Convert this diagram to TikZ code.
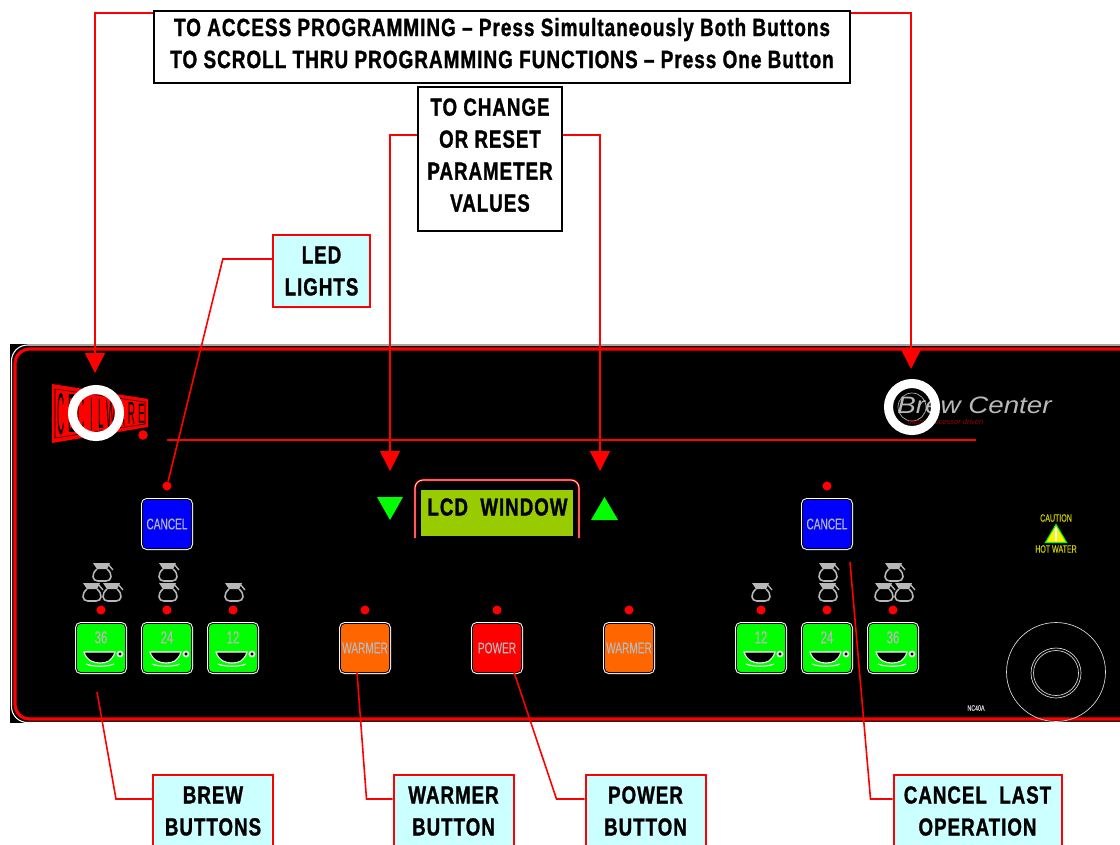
\documentclass[tikz,border=0pt]{standalone}
\usepackage{fontspec}
\setmainfont{Liberation Sans}
\newfontfamily\boxfont[FakeStretch=0.76,LetterSpace=4,BoldFont={Liberation Sans Bold},BoldFeatures={FakeBold=1.2}]{Liberation Sans}
\newfontfamily\btnfont[FakeStretch=0.66,FakeBold=0.3]{Liberation Sans}
\newfontfamily\logofont[FakeStretch=0.75]{Liberation Sans}
\usetikzlibrary{arrows.meta}
\definecolor{panelcyan}{HTML}{CCFFFF}
\definecolor{lcdgreen}{HTML}{99CC00}
\definecolor{btngrey}{HTML}{B8B8B8}
\definecolor{warmorange}{HTML}{FF6600}
\definecolor{cautiony}{HTML}{CCCC00}
\tikzset{
  notebox/.style={draw=black,line width=1.5pt,fill=white,align=center,inner sep=0pt,font=\boxfont\fontsize{18.5}{24}\selectfont\bfseries,execute at end node={\rule[-6pt]{0pt}{6pt}}},
  topbox/.style={notebox,font=\boxfont\fontsize{18.7}{24}\selectfont\bfseries,execute at end node={\rule[-4.5pt]{0pt}{4.5pt}}},
  callout/.style={draw=red,line width=1.5pt,fill=panelcyan,align=center,inner sep=0pt,font=\boxfont\fontsize{18.5}{24}\selectfont\bfseries},
  leader/.style={draw=red,line width=1.2pt},
  bigarrow/.style={leader,-{Triangle[length=15pt,width=15pt]}},
  led/.style={circle,fill=red,minimum size=6.8pt,inner sep=0pt},
  panelbtn/.style={rounded corners=3pt,minimum size=36pt,inner sep=0pt,text=btngrey,font=\btnfont\fontsize{11.5}{12}\selectfont,
    preaction={draw=white,line width=3pt},preaction={draw=black,line width=1.5pt}},
  carafe/.pic={
    \fill[btngrey] (-9,-9) -- (8,-9) -- (5,-3) -- (-5,-3) -- cycle;
    \draw[btngrey,line width=1.2pt] (-5,-3) .. controls (-11,2) and (-10,9) .. (-4,9) -- (4,9) .. controls (10,9) and (11,2) .. (5,-3);
    \draw[btngrey,line width=1pt] (6,-8) -- (11,-2);
  },
  brewcup/.pic={
    \draw[white,fill=black,line width=.8pt] (-17,4) .. controls (-14,13) and (-7,15) .. (-1,15) .. controls (6,15) and (11,13) .. (14,4) -- cycle;
    \draw[white,line width=.8pt] (-15,16) .. controls (-8,19) and (6,19) .. (13,16);
    \draw[white,fill=black,line width=1.2pt] (19,6) circle (2.5);
  },
}
\begin{document}
\begin{tikzpicture}[x=.75pt,y=-.75pt]
   \clip (0,0) rectangle (1120,844);
   \fill[white] (0,0) rectangle (1120,844);
   % panel
   \fill[black] (10,344) rectangle (1140,723);
   \draw[white,line width=.8pt,rounded corners=12pt] (11.5,345) rectangle (1140,722.5);
   \draw[red,line width=2.4pt,rounded corners=11pt] (15,349) rectangle (1140,719);
   \draw[red,line width=2pt] (167,440) -- (976,440);
   % logo
   \fill[red] (52,384) -- (148,399) -- (148,427) -- (52,443) -- cycle;
   \draw[black,line width=.4pt] (55,389) -- (145,402) -- (145,424) -- (55,438) -- cycle;
   \foreach \c [count=\i] in {C,E,C,I,L,W,A,R,E} {
     \pgfmathsetmacro{\lx}{61.5+(\i-1)*10}
     \pgfmathsetmacro{\ls}{(42-(\lx-61.5)*22/80)/9.5}
     \node[inner sep=0pt,text=black,font=\logofont\fontsize{10}{10}\selectfont,yscale=\ls] (logo\i) at (\lx,414) {\c};
   }
   \fill[red] (143,435) circle (4.8);
   \draw[white,line width=6.8pt] (96,413) circle (23.5);
   % brew center mark
   \draw[btngrey,line width=.5pt] (912,407) circle (14);
   \node[inner sep=0pt,text=btngrey,font=\itshape\fontsize{17.8}{20}\selectfont,xscale=1.17] (brewtext) at (974.5,405) {Brew Center};
   \node[inner sep=0pt,text=red!60!black,font=\itshape\fontsize{5.6}{7}\selectfont] (microtext) at (945.5,423) {micro processor driven};
   \draw[white,line width=6.8pt] (912,407) circle (23.5);
   % lcd
   \draw[red,line width=1.6pt,rounded corners=6pt] (415,538) -- (415,480) -- (579,480) -- (579,538);
   \draw[white,line width=.5pt,rounded corners=6pt] (415,538) -- (415,480) -- (579,480) -- (579,538);
   \fill[lcdgreen] (421,490) rectangle (573,536);
   \node[inner sep=0pt,font=\boxfont\fontsize{18.5}{20}\selectfont\bfseries] (lcd) at (497.5,507) {LCD\ \ WINDOW};
   \fill[green] (377,497) -- (403,497) -- (390,520) -- cycle;
   \fill[green] (591,520) -- (618,520) -- (604.5,497) -- cycle;
   % leds and buttons
   \foreach \x in {101,167,233,365,497,629,761,827,893} \node[led] (led\x) at (\x,610) {};
   \node[led] (ledcancelL) at (167,486) {};
   \node[led] (ledcancelR) at (827,486) {};
   \node[panelbtn,fill=blue] (cancelL) at (167,524) {CANCEL};
   \node[panelbtn,fill=blue] (cancelR) at (827,524) {CANCEL};
   \node[panelbtn,fill=warmorange] (warmerL) at (365,648) {WARMER};
   \node[panelbtn,fill=red] (powerbtn) at (497,648) {POWER};
   \node[panelbtn,fill=warmorange] (warmerR) at (629,648) {WARMER};
   \foreach \x/\n in {101/36,167/24,233/12,761/12,827/24,893/36} {
     \node[panelbtn,fill=green,font=\btnfont\fontsize{13}{13}\selectfont,text depth=17pt,text height=10pt] (brew\x) at (\x,648) {\n};
     \pic at (\x,648) {brewcup};
   }
   % carafes
   \foreach \x/\y in {92/592,112/592,102/572,168/572,168/592,234/592,761/592,828/572,828/592,894/572,884/592,904/592} \pic at (\x,\y) {carafe};
   % caution
   \node[inner sep=0pt,text=cautiony,font=\btnfont\fontsize{8}{8}\selectfont] (cautiontext) at (1056,518) {CAUTION};
   \draw[green,fill=yellow,line width=.8pt] (1045.5,542.5) -- (1056,524.5) -- (1066.5,542.5) -- cycle;
   \draw[white,line width=1pt] (1056,527) -- (1056,541);
   \node[inner sep=0pt,text=cautiony,font=\btnfont\fontsize{8}{8}\selectfont] (hottext) at (1056,549) {HOT WATER};
   % knob
   \draw[white!85!black,line width=.5pt] (1056,672) circle (49.5);
   \draw[white!85!black,line width=.5pt] (1056,673) circle (25);
   \draw[white!85!black,line width=.5pt] (1056,673) circle (22.5);
   \node[inner sep=0pt,text=white!80!black,font=\btnfont\fontsize{6}{6}\selectfont] (modeltext) at (976,708) {NC40A};
   % boxes
   \node[topbox,minimum width=522pt,minimum height=54pt] (accessbox) at (502,47) {TO ACCESS PROGRAMMING – Press Simultaneously Both Buttons\\TO SCROLL THRU PROGRAMMING FUNCTIONS – Press One Button};
   \node[notebox,minimum width=108pt,minimum height=108pt] (changebox) at (490,159) {TO CHANGE\\OR RESET\\PARAMETER\\VALUES};
   \node[callout,minimum width=73pt,minimum height=54pt] (ledbox) at (321.5,271) {LED\\LIGHTS};
   \node[callout,minimum width=90pt,minimum height=54pt] (brewbox) at (213,811) {BREW\\BUTTONS};
   \node[callout,minimum width=90pt,minimum height=54pt] (warmerbox) at (453.5,811) {WARMER\\BUTTON};
   \node[callout,minimum width=90pt,minimum height=54pt] (powerbox) at (645.5,811) {POWER\\BUTTON};
   \node[callout,minimum width=126pt,minimum height=54pt] (cancelbox) at (977.5,811) {CANCEL\ \ LAST\\OPERATION};
   % leaders
   \coordinate (logotip) at (95,373);
   \coordinate (marktip) at (911,369);
   \coordinate (downtip) at (390,471);
   \coordinate (uptip) at (600,471);
   \coordinate (brewtip) at (97,692);
   \coordinate (cancelend) at (850,562);
   \draw[bigarrow] ([yshift=-2.25pt]accessbox.north west) -| (logotip);
   \draw[bigarrow] ([yshift=-2.25pt]accessbox.north east) -| (marktip);
   \draw[bigarrow] ([yshift=18pt]changebox.west) -| (downtip);
   \draw[bigarrow] ([yshift=18pt]changebox.east) -| (uptip);
   \draw[leader] ([yshift=9pt]ledbox.west) -- ++(-49,0) -- (ledcancelL);
   \draw[leader] ([yshift=9pt]brewbox.west) -- ++(-36,0) -- (brewtip);
   \draw[leader] ([yshift=9pt]warmerbox.west) -- ++(-26,0) -- ([xshift=-6pt]warmerL.south);
   \draw[leader] ([yshift=9pt]powerbox.west) -- ++(-28,0) -- ([xshift=12.75pt]powerbtn.south);
   \draw[leader] ([yshift=9pt]cancelbox.west) -- ++(-22,0) -- (cancelend);
\end{tikzpicture}
\end{document}
